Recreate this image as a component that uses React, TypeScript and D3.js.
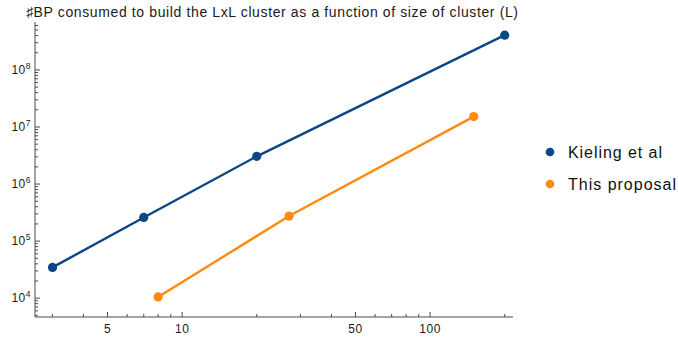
import React from "react";
import * as d3 from "d3";

const title = "♯BP consumed to build the LxL cluster as a function of size of cluster (L)";
const seriesNames = ["Kieling et al", "This proposal"];
const seriesColors = ["#0b4686", "#ff8a10"];
const kielingL = [3, 7, 20, 200];
const kielingBP = [3.46e4, 2.6e5, 3.06e6, 4.07e8];
const proposalL = [8, 27, 150];
const proposalBP = [1.05e4, 2.75e5, 1.52e7];
const xTickLabels = [5, 10, 50, 100];
const yTickPowers = [4, 5, 6, 7, 8];

const W = 678;
const H = 337;
const left = 35;
const right = 513;
const top = 22;
const bottom = 317;

export default function App() {
  const x = d3.scaleLog().domain([2.55, 216]).range([left, right]);
  const y = d3.scaleLog().domain([10 ** 3.67, 10 ** 8.84]).range([bottom, top]);
  const line = d3
    .line<[number, number]>()
    .x((d) => x(d[0]))
    .y((d) => y(d[1]));

  const series = [
    { name: seriesNames[0], color: seriesColors[0], pts: kielingL.map((l, i) => [l, kielingBP[i]] as [number, number]) },
    { name: seriesNames[1], color: seriesColors[1], pts: proposalL.map((l, i) => [l, proposalBP[i]] as [number, number]) },
  ];
  const legendWidths = [94, 108];

  // major and minor ticks along x
  const xTicks: { v: number; major: boolean }[] = [];
  for (let p = 0; p <= 2; p++) {
    for (let m = 1; m <= 9; m++) {
      const v = m * 10 ** p;
      if (v >= x.domain()[0] && v <= x.domain()[1]) {
        xTicks.push({ v, major: xTickLabels.includes(v) });
      }
    }
  }
  const yTicks: { v: number; major: boolean }[] = [];
  for (let p = 3; p <= 8; p++) {
    for (let m = 1; m <= 9; m++) {
      const v = m * 10 ** p;
      if (v >= y.domain()[0] && v <= y.domain()[1]) {
        yTicks.push({ v, major: m === 1 });
      }
    }
  }

  const axisColor = "#4a4a4a";
  const font = "'Liberation Sans', Arial, sans-serif";

  return (
    <svg width={W} height={H} style={{ position: "absolute", left: 0, top: 0 }} fontFamily={font}>
      <rect width={W} height={H} fill="#fff" />
      <text x={26} y={17} fontSize={14} fill="#1a1a1a" textLength={492} lengthAdjust="spacing">{title}</text>

      {/* axes */}
      <line x1={left} x2={left} y1={top} y2={bottom} stroke={axisColor} strokeWidth={1} />
      <line x1={left} x2={right} y1={bottom} y2={bottom} stroke={axisColor} strokeWidth={1} />

      {xTicks.map((t, i) => (
        <line key={"xt" + i} x1={x(t.v)} x2={x(t.v)} y1={bottom} y2={bottom - (t.major ? 5 : 3)} stroke={axisColor} />
      ))}
      {xTickLabels.map((v) => (
        <text key={"xl" + v} x={x(v)} y={bottom + 16} fontSize={12} letterSpacing={0.5} textAnchor="middle" fill="#1a1a1a">{v}</text>
      ))}

      {yTicks.map((t, i) => (
        <line key={"yt" + i} x1={left} x2={left + (t.major ? 5 : 3)} y1={y(t.v)} y2={y(t.v)} stroke={axisColor} />
      ))}
      {yTickPowers.map((p) => (
        <text key={"yl" + p} x={31} y={y(10 ** p) + 4} fontSize={12} letterSpacing={0.5} textAnchor="end" fill="#1a1a1a">
          10<tspan dy={-5} fontSize={8.5}>{p}</tspan>
        </text>
      ))}

      {series.map((s) => (
        <g key={s.name}>
          <path d={line(s.pts) ?? ""} fill="none" stroke={s.color} strokeWidth={2.4} />
          {s.pts.map((p, i) => (
            <circle key={i} cx={x(p[0])} cy={y(p[1])} r={4.6} fill={s.color} />
          ))}
        </g>
      ))}

      {/* legend */}
      {series.map((s, i) => (
        <g key={"lg" + i} transform={`translate(550, ${152 + i * 32})`}>
          <circle cx={0} cy={0} r={4.3} fill={s.color} />
          <text x={18} y={5.8} fontSize={16} fill="#111" textLength={legendWidths[i]} lengthAdjust="spacing">{s.name}</text>
        </g>
      ))}
    </svg>
  );
}
